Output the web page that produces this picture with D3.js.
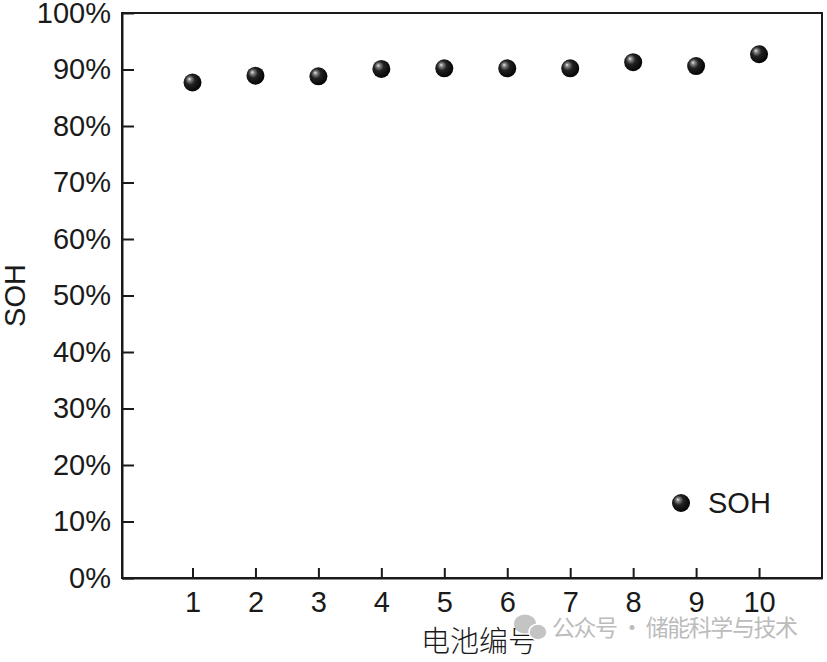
<!DOCTYPE html>
<html>
<head>
<meta charset="utf-8">
<script src="https://cdn.jsdelivr.net/npm/d3@7"></script>
<style>
  body { margin: 0; background: #fff; }
  svg text { font-family: "Liberation Sans", Arial, sans-serif; fill: #1a1a1a; }
</style>
</head>
<body>
<div id="chart"></div>
<script>
// battery number and SOH (%)
const batteries = [1, 2, 3, 4, 5, 6, 7, 8, 9, 10];
const sohValues = [87.7, 88.9, 88.8, 90.1, 90.2, 90.2, 90.2, 91.3, 90.6, 92.7];
const yTicks = [0, 10, 20, 30, 40, 50, 60, 70, 80, 90, 100];
const xTitle = "电池编号";
const yTitle = "SOH";
const legendLabel = "SOH";
const watermark = "公众号 · 储能科学与技术";

const w = 827, h = 662;
const margin = { left: 122, right: 5, top: 13, bottom: 84 };

const svg = d3.select("#chart").append("svg").attr("width", w).attr("height", h);

// sphere look for the markers
const grad = svg.append("defs").append("radialGradient")
    .attr("id", "ball").attr("cx", "42%").attr("cy", "42%").attr("r", "60%")
    .attr("fx", "32%").attr("fy", "30%");
grad.append("stop").attr("offset", "0%").attr("stop-color", "#f0f0f0");
grad.append("stop").attr("offset", "15%").attr("stop-color", "#8c8c8c");
grad.append("stop").attr("offset", "45%").attr("stop-color", "#222");
grad.append("stop").attr("offset", "100%").attr("stop-color", "#030303");

const x = d3.scaleLinear().domain([-0.12, 11]).range([margin.left, w - margin.right]);
const y = d3.scaleLinear().domain([0, 100]).range([h - margin.bottom, margin.top]);

// frame
svg.append("rect")
    .attr("x", x(-0.12)).attr("y", y(100))
    .attr("width", x(11) - x(-0.12)).attr("height", y(0) - y(100))
    .attr("fill", "none").attr("stroke", "#1a1a1a").attr("stroke-width", 2);

const xAxis = d3.axisBottom(x).tickValues(batteries).tickSize(-10).tickSizeOuter(0).tickPadding(13);
const yAxis = d3.axisLeft(y).tickValues(yTicks).tickSize(-12).tickSizeOuter(0).tickPadding(11)
    .tickFormat(d => d + "%");

const gx = svg.append("g").attr("transform", "translate(0," + y(0) + ")").call(xAxis);
const gy = svg.append("g").attr("transform", "translate(" + x(-0.12) + ",0)").call(yAxis);
[gx, gy].forEach(g => {
    g.select(".domain").attr("stroke", "#1a1a1a").attr("stroke-width", 2);
    g.selectAll(".tick line").attr("stroke", "#1a1a1a").attr("stroke-width", 2);
    g.selectAll(".tick text").style("font-size", "29px").attr("fill", "#1a1a1a")
        .style("font-family", "'Liberation Sans', Arial, sans-serif");
});

// points
svg.selectAll("circle.pt")
    .data(batteries)
    .enter()
    .append("circle")
    .attr("class", "pt")
    .attr("cx", d => x(d))
    .attr("cy", (d, i) => y(sohValues[i]))
    .attr("r", 9)
    .attr("fill", "url(#ball)");

// legend
svg.append("circle").attr("cx", 681).attr("cy", 503).attr("r", 9).attr("fill", "url(#ball)");
svg.append("text").attr("x", 708).attr("y", 513).style("font-size", "29px").text(legendLabel);

// axis titles
svg.append("text").attr("transform", "translate(25," + y(50) + ") rotate(-90)")
    .attr("text-anchor", "middle").style("font-size", "29px").text(yTitle);
svg.append("text").attr("x", 479).attr("y", 652).attr("text-anchor", "middle")
    .style("font-family", "'Noto Sans CJK SC', sans-serif").style("font-size", "29px")
    .style("font-weight", 300).text(xTitle);

// watermark
const wm = svg.append("g").attr("fill", "#c4c4c4");
wm.append("ellipse").attr("cx", 525).attr("cy", 624).attr("rx", 11).attr("ry", 9.5);
wm.append("ellipse").attr("cx", 538).attr("cy", 632).attr("rx", 9).attr("ry", 8)
    .attr("stroke", "#fff").attr("stroke-width", 1.5);
svg.append("text").attr("x", 552).attr("y", 636)
    .attr("textLength", 246).attr("lengthAdjust", "spacing")
    .style("font-family", "'Noto Sans CJK SC', sans-serif").style("font-size", "23px")
    .style("fill", "#bcbcbc").text(watermark);
</script>
</body>
</html>
